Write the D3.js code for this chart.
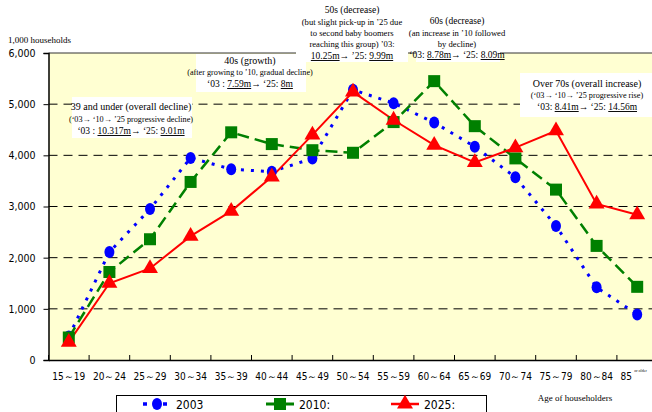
<!DOCTYPE html>
<html><head><meta charset="utf-8">
<script src="https://cdn.jsdelivr.net/npm/d3@7"></script>
<style>body{margin:0;background:#fff}svg{display:block}</style>
</head><body>
<script>
const categories = ["15～19","20～24","25～29","30～34","35～39","40～44","45～49","50～54","55～59","60～64","65～69","70～74","75～79","80～84","85"];
const s2003 = [460,2110,2950,3950,3730,3680,3940,5280,5020,4640,4170,3570,2620,1420,890];
const s2010 = [440,1720,2360,3480,4450,4220,4100,4050,4650,5450,4570,3940,3330,2230,1430];
const s2025 = [350,1500,1790,2420,2910,3580,4400,5240,4690,4200,3860,4150,4480,3050,2840];
const yTicks = [0,1000,2000,3000,4000,5000,6000];
const seriesNames = ["2003","2010:","2025:"];

(function(){
const W=652,H=412;
const svg=d3.select("body").append("svg").attr("width",W).attr("height",H);
const pL=48.5, pR=657.5, pT=53, pB=360;
const x=d3.scaleBand().domain(categories).range([pL,pR]);
const y=d3.scaleLinear().domain([0,6000]).range([pB,pT]);

svg.append("rect").attr("x",pL).attr("y",pT).attr("width",pR-pL).attr("height",pB-pT).attr("fill","#ffffd2");

svg.append("g").selectAll("line").data(yTicks.filter(d=>d>0&&d<6000)).join("line")
 .attr("x1",pL).attr("x2",pR).attr("y1",d=>y(d)).attr("y2",d=>y(d))
 .attr("stroke","#000").attr("stroke-width",1).attr("stroke-dasharray","9,6");
svg.append("line").attr("x1",pL).attr("x2",pR).attr("y1",pT).attr("y2",pT).attr("stroke","#333").attr("stroke-width",1);

const ya=svg.append("g").attr("transform",`translate(${pL},0)`).call(d3.axisLeft(y).tickValues(yTicks).tickFormat(d3.format(",")).tickSize(5).tickPadding(8));
ya.select(".domain").attr("stroke","#000").attr("stroke-width",1.5);
ya.selectAll("text").attr("font-family","'DejaVu Sans Condensed','DejaVu Sans',sans-serif").attr("font-size",10.5).attr("fill","#000");
const xa=svg.append("g").attr("transform",`translate(0,${pB})`).call(d3.axisBottom(x).tickSize(0).tickPadding(13));
xa.select(".domain").attr("stroke","#000").attr("stroke-width",1.5);
xa.selectAll("text").attr("font-family","'DejaVu Sans Condensed','DejaVu Sans',sans-serif").attr("font-size",10).attr("fill","#000");
xa.selectAll(".tick").filter(d=>d==="85").select("text").attr("dx",-11);
svg.append("g").selectAll("line").data(categories).join("line")
 .attr("x1",d=>x(d)).attr("x2",d=>x(d)).attr("y1",pB).attr("y2",pB-5).attr("stroke","#000");
svg.append("text").attr("x",x("85")+x.bandwidth()/2-3).attr("y",372).attr("font-size",4).attr("font-family","'Liberation Serif',serif").text("or older");

svg.append("text").attr("x",8).attr("y",43).attr("font-family","'Liberation Serif',serif").attr("font-size",9).text("1,000 households");
svg.append("text").attr("x",575).attr("y",401).attr("text-anchor","middle").attr("font-family","'Liberation Serif',serif").attr("font-size",9).text("Age of householders");

const cx=d=>x(d)+x.bandwidth()/2;
const line=d3.line().x((d,i)=>cx(categories[i])).y(d=>y(d));
const series=[
 {vals:s2003,color:"#0000ff",dash:"3,7",w:3,mark:"circle"},
 {vals:s2010,color:"#008000",dash:"12,6",w:2.5,mark:"square"},
 {vals:s2025,color:"#ff0000",dash:null,w:2,mark:"triangle"}];
function marker(g,type,color){
  if(type==="circle") g.append("ellipse").attr("rx",5).attr("ry",6).attr("fill",color);
  else if(type==="square") g.append("rect").attr("x",-6).attr("y",-6).attr("width",12).attr("height",12).attr("fill",color);
  else g.append("path").attr("d",d3.symbol(d3.symbolTriangle,110)()).attr("fill",color);
}
series.forEach(s=>{
  svg.append("path").datum(s.vals).attr("d",line).attr("fill","none").attr("stroke",s.color).attr("stroke-width",s.w).attr("stroke-dasharray",s.dash);
});
series.forEach(s=>{
  s.vals.forEach((v,i)=>{const g=svg.append("g").attr("transform",`translate(${cx(categories[i])},${y(v)})`);marker(g,s.mark,s.color);});
});

function note(bx,by,bw,bh,cxp,lines){
  svg.append("rect").attr("x",bx).attr("y",by).attr("width",bw).attr("height",bh).attr("fill","#fff");
  lines.forEach(l=>{
    const t=svg.append("text").attr("x",cxp).attr("y",l.y).attr("text-anchor","middle").attr("font-family","'Liberation Serif',serif").attr("font-size",l.s);
    l.parts.forEach(p=>{t.append("tspan").attr("text-decoration",p.u?"underline":null).text(p.t);});
  });
}
note(72,97,120,41,131,[
 {y:110,s:10,parts:[{t:"39 and under (overall decline)"}]},
 {y:122,s:8.2,parts:[{t:"(‘03→ ‘10→ ’25 progressive decline)"}]},
 {y:134,s:9.5,parts:[{t:"‘03 : "},{t:"10.317m",u:1},{t:"→ ‘25: "},{t:"9.01m",u:1}]}]);
note(196,54,110,38,250,[
 {y:64,s:10,parts:[{t:"40s (growth)"}]},
 {y:75,s:8.2,parts:[{t:"(after growing to ’10, gradual decline)"}]},
 {y:87,s:9.5,parts:[{t:"‘03 : "},{t:"7.59m",u:1},{t:"→ ‘25: "},{t:"8m",u:1}]}]);
note(296,0,112,62,352,[
 {y:13,s:9.5,parts:[{t:"50s (decrease)"}]},
 {y:25,s:8.6,parts:[{t:"(but slight pick-up in ’25 due"}]},
 {y:36,s:8.6,parts:[{t:"to second baby boomers"}]},
 {y:47,s:8.6,parts:[{t:"reaching this group) ’03:"}]},
 {y:59,s:9.5,parts:[{t:"10.25m",u:1},{t:"→ ’25: "},{t:"9.99m",u:1}]}]);
note(416,14,84,48,457,[
 {y:24,s:9.5,parts:[{t:"60s (decrease)"}]},
 {y:36,s:8.6,parts:[{t:"(an increase in ’10 followed"}]},
 {y:47,s:8.6,parts:[{t:"by decline)"}]},
 {y:58,s:9.5,parts:[{t:"‘03: "},{t:"8.78m",u:1},{t:"→ ‘25: "},{t:"8.09m",u:1}]}]);
note(520,73,140,44,587,[
 {y:87,s:10,parts:[{t:"Over 70s (overall increase)"}]},
 {y:98,s:8.2,parts:[{t:"(‘03→ ‘10→ ’25 progressive rise)"}]},
 {y:110,s:9.5,parts:[{t:"‘03: "},{t:"8.41m",u:1},{t:"→ ‘25: "},{t:"14.56m",u:1}]}]);

const lg=svg.append("g");
lg.append("rect").attr("x",116.5).attr("y",395.5).attr("width",370).attr("height",30).attr("fill","#fff").attr("stroke","#000");
const lx=[157,280,405];
series.forEach((s,i)=>{
  lg.append("line").attr("x1",lx[i]-14).attr("x2",lx[i]+14).attr("y1",404).attr("y2",404).attr("stroke",s.color).attr("stroke-width",s.w+0.5).attr("stroke-dasharray",s.mark==="circle"?"4,16":(s.mark==="square"?"10,8":null));
  const g=lg.append("g").attr("transform",`translate(${lx[i]},404)`);marker(g,s.mark,s.color);
  lg.append("text").attr("x",lx[i]+19).attr("y",408.5).attr("font-family","'DejaVu Sans Condensed','DejaVu Sans',sans-serif").attr("font-size",12).text(seriesNames[i]);
});
})();
</script>
</body></html>
